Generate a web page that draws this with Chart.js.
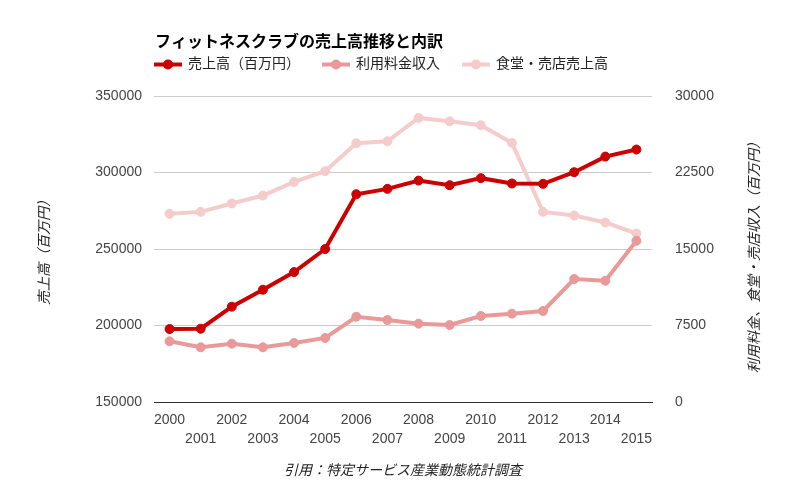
<!DOCTYPE html>
<html>
<head>
<meta charset="utf-8">
<script src="https://cdn.jsdelivr.net/npm/chart.js@4"></script>
<style>
  body { margin: 0; background: #fff; }
  #wrap { width: 806px; height: 498px; }
</style>
</head>
<body>
<div id="wrap"><canvas id="chart" width="806" height="498"></canvas></div>
<script>
// data
const years = ['2000', '2001', '2002', '2003', '2004', '2005', '2006', '2007',
               '2008', '2009', '2010', '2011', '2012', '2013', '2014', '2015'];
const sales = [197700, 197900, 212300, 223400, 234900, 250000, 285800, 289300,
               294700, 291700, 296300, 292800, 292600, 300200, 310400, 315000];
const feeIncome = [5950, 5360, 5720, 5360, 5790, 6280, 8360, 8040,
                   7680, 7550, 8430, 8660, 8920, 12060, 11890, 15800];
const foodShop = [18450, 18640, 19460, 20240, 21580, 22630, 25370, 25560,
                  27850, 27520, 27130, 25400, 18640, 18280, 17600, 16520];

const chartTitle = 'フィットネスクラブの売上高推移と内訳';
const leftTitle = '売上高（百万円）';
const rightTitle = '利用料金、食堂・売店収入（百万円）';
const sourceNote = '引用：特定サービス産業動態統計調査';

const FONT = '"Liberation Sans", "Noto Sans CJK JP", sans-serif';

// title, legend and right axis title
const headerPlugin = {
    id: 'header',
    afterDraw(chart) {
        const ctx = chart.ctx;
        ctx.save();
        ctx.textBaseline = 'middle';
        ctx.textAlign = 'left';
        ctx.fillStyle = '#000';
        ctx.font = 'bold 16px ' + FONT;
        ctx.fillText(chartTitle, 155, 43);

        ctx.font = '14px ' + FONT;
        let x = 154;
        const y = 64.5;
        chart.data.datasets.forEach(ds => {
            ctx.strokeStyle = ds.borderColor;
            ctx.lineWidth = 4;
            ctx.beginPath();
            ctx.moveTo(x, y);
            ctx.lineTo(x + 28, y);
            ctx.stroke();
            ctx.fillStyle = ds.borderColor;
            ctx.beginPath();
            ctx.arc(x + 14, y, 5, 0, Math.PI * 2);
            ctx.fill();
            ctx.fillStyle = '#222';
            ctx.fillText(ds.label, x + 34, y);
            x += 34 + ctx.measureText(ds.label).width + 22;
        });

        ctx.translate(755, 254);
        ctx.rotate(-Math.PI / 2);
        ctx.textAlign = 'center';
        ctx.font = 'italic 14px ' + FONT;
        ctx.fillStyle = '#222';
        ctx.fillText(rightTitle, 0, 0);
        ctx.restore();
    }
};

const plain = v => String(v);

const ctx = document.getElementById('chart').getContext('2d');

new Chart(ctx, {
    type: 'line',
    data: {
        labels: years,
        datasets: [
            {
                label: '売上高（百万円）',
                data: sales,
                yAxisID: 'y',
                borderColor: '#cc0000',
                backgroundColor: '#cc0000',
                borderWidth: 4,
                pointRadius: 4.5,
                pointBorderWidth: 1
            },
            {
                label: '利用料金収入',
                data: feeIncome,
                yAxisID: 'y2',
                borderColor: '#ea9999',
                backgroundColor: '#ea9999',
                borderWidth: 4,
                pointRadius: 4.5,
                pointBorderWidth: 1
            },
            {
                label: '食堂・売店売上高',
                data: foodShop,
                yAxisID: 'y2',
                borderColor: '#f4cccc',
                backgroundColor: '#f4cccc',
                borderWidth: 4,
                pointRadius: 4.5,
                pointBorderWidth: 1
            }
        ]
    },
    options: {
        responsive: false,
        animation: false,
        layout: { padding: { top: 96, left: 0, right: 0, bottom: 0 } },
        plugins: {
            legend: { display: false },
            title: { display: false },
            tooltip: { enabled: false }
        },
        scales: {
            x: {
                offset: true,
                grid: { display: false },
                border: { display: true, color: '#333', width: 1 },
                ticks: {
                    autoSkip: false,
                    maxRotation: 0,
                    minRotation: 0,
                    padding: 1,
                    color: '#444',
                    font: { family: FONT, size: 14, lineHeight: '18.5px' },
                    callback: function (val, i) {
                        return i % 2 === 0 ? [years[i]] : ['', years[i]];
                    }
                },
                title: {
                    display: true,
                    text: sourceNote,
                    color: '#222',
                    font: { family: FONT, size: 14, style: 'italic' },
                    padding: { top: 0, bottom: 18 }
                },
                afterFit: function (scale) { scale.height = 96; }
            },
            y: {
                position: 'left',
                min: 150000,
                max: 350000,
                grid: { color: '#cccccc', drawTicks: false },
                border: { display: false },
                ticks: {
                    stepSize: 50000,
                    padding: 12,
                    color: '#444',
                    font: { family: FONT, size: 14 },
                    callback: plain
                },
                title: {
                    display: true,
                    text: leftTitle,
                    color: '#222',
                    font: { family: FONT, size: 14, style: 'italic' },
                    padding: { top: 37, bottom: 0 }
                },
                afterFit: function (scale) { scale.width = 154; }
            },
            y2: {
                position: 'right',
                min: 0,
                max: 30000,
                grid: { display: false },
                border: { display: false },
                ticks: {
                    stepSize: 7500,
                    padding: 15,
                    color: '#444',
                    font: { family: FONT, size: 14 },
                    callback: plain
                },
                afterFit: function (scale) { scale.width = 154; }
            }
        }
    },
    plugins: [headerPlugin]
});
</script>
</body>
</html>
